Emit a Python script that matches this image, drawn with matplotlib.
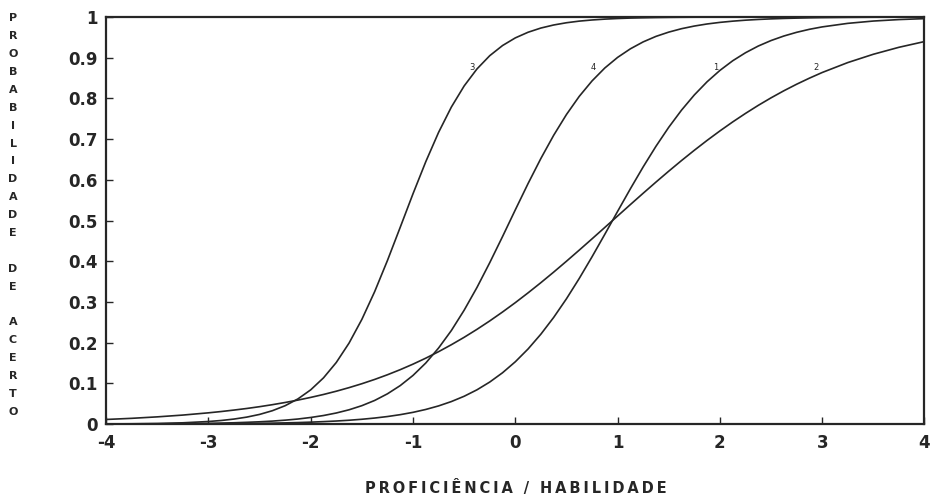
import matplotlib
matplotlib.use("Agg")
import matplotlib.pyplot as plt

# proficiency grid read along the x axis (finer through the steep middle part)
theta = [-4.0, -3.75, -3.5, -3.25,
         -3.0, -2.875, -2.75, -2.625, -2.5, -2.375, -2.25, -2.125,
         -2.0, -1.875, -1.75, -1.625, -1.5, -1.375, -1.25, -1.125,
         -1.0, -0.875, -0.75, -0.625, -0.5, -0.375, -0.25, -0.125,
         0.0, 0.125, 0.25, 0.375, 0.5, 0.625, 0.75, 0.875,
         1.0, 1.125, 1.25, 1.375, 1.5, 1.625, 1.75, 1.875,
         2.0, 2.125, 2.25, 2.375, 2.5, 2.625, 2.75, 2.875,
         3.0, 3.25, 3.5, 3.75, 4.0]

# probability of a correct answer
item_3 = [0.0005, 0.0009, 0.0017, 0.0033,
          0.0065, 0.0090, 0.0125, 0.0173, 0.0239, 0.0330, 0.0453, 0.0620,
          0.0843, 0.1137, 0.1515, 0.1992, 0.2573, 0.3254, 0.4019, 0.4835,
          0.5659, 0.6447, 0.7166, 0.7788, 0.8306, 0.8723, 0.9049, 0.9298,
          0.9486, 0.9625, 0.9728, 0.9803, 0.9858, 0.9898, 0.9926, 0.9947,
          0.9962, 0.9973, 0.9980, 0.9986, 0.9990, 0.9993, 0.9995, 0.9996,
          0.9997, 0.9998, 0.9999, 0.9999, 0.9999, 1.0, 1.0, 1.0,
          1.0, 1.0, 1.0, 1.0, 1.0]
item_4 = [0.0003, 0.0004, 0.0007, 0.0012,
          0.0020, 0.0026, 0.0034, 0.0045, 0.0058, 0.0075, 0.0098, 0.0126,
          0.0164, 0.0212, 0.0274, 0.0353, 0.0454, 0.0582, 0.0745, 0.0947,
          0.1197, 0.1502, 0.1870, 0.2300, 0.2799, 0.3356, 0.3965, 0.4606,
          0.5263, 0.5910, 0.6525, 0.7094, 0.7604, 0.8050, 0.8429, 0.8747,
          0.9007, 0.9218, 0.9388, 0.9523, 0.9628, 0.9712, 0.9777, 0.9828,
          0.9867, 0.9897, 0.9921, 0.9939, 0.9953, 0.9964, 0.9972, 0.9979,
          0.9984, 0.9990, 0.9994, 0.9997, 0.9998]
item_1 = [0.0001, 0.0002, 0.0003, 0.0005,
          0.0008, 0.0010, 0.0013, 0.0016, 0.0020, 0.0025, 0.0031, 0.0039,
          0.0049, 0.0062, 0.0077, 0.0096, 0.0120, 0.0150, 0.0187, 0.0233,
          0.0290, 0.0361, 0.0448, 0.0555, 0.0685, 0.0843, 0.1034, 0.1262,
          0.1532, 0.1847, 0.2210, 0.2621, 0.3079, 0.3578, 0.4110, 0.4663,
          0.5225, 0.5781, 0.6318, 0.6824, 0.7291, 0.7712, 0.8085, 0.8409,
          0.8687, 0.8924, 0.9121, 0.9286, 0.9421, 0.9532, 0.9623, 0.9697,
          0.9756, 0.9843, 0.9900, 0.9936, 0.9959]
item_2 = [0.0115, 0.0143, 0.0179, 0.0223,
          0.0278, 0.0310, 0.0346, 0.0385, 0.0429, 0.0478, 0.0532, 0.0591,
          0.0657, 0.0729, 0.0809, 0.0897, 0.0993, 0.1098, 0.1213, 0.1338,
          0.1474, 0.1621, 0.1780, 0.1951, 0.2133, 0.2328, 0.2535, 0.2754,
          0.2984, 0.3225, 0.3475, 0.3734, 0.4001, 0.4274, 0.4551, 0.4831,
          0.5112, 0.5393, 0.5671, 0.5945, 0.6213, 0.6474, 0.6726, 0.6969,
          0.7201, 0.7422, 0.7631, 0.7829, 0.8014, 0.8187, 0.8348, 0.8497,
          0.8636, 0.8880, 0.9084, 0.9255, 0.9396]

curve_labels = ["3", "4", "1", "2"]
label_x = [-0.42, 0.76, 1.96, 2.94]
label_y = [0.875, 0.875, 0.875, 0.875]

x_ticks = [-4, -3, -2, -1, 0, 1, 2, 3, 4]
x_ticklabels = ["-4", "-3", "-2", "-1", "0", "1", "2", "3", "4"]
y_ticks = [0, 0.1, 0.2, 0.3, 0.4, 0.5, 0.6, 0.7, 0.8, 0.9, 1.0]
y_ticklabels = ["0", "0.1", "0.2", "0.3", "0.4", "0.5", "0.6", "0.7", "0.8", "0.9", "1"]

y_title = "PROBABILIDADE DE ACERTO"
x_title = "PROFICIÊNCIA / HABILIDADE"

ink = "#262626"

fig = plt.figure(figsize=(9.31, 4.99), dpi=100)
ax = fig.add_axes([0.1140, 0.150, 0.879, 0.816])

for ys in (item_3, item_4, item_1, item_2):
    ax.plot(theta, ys, color=ink, lw=1.2)

for lab, lx, ly in zip(curve_labels, label_x, label_y):
    ax.text(lx, ly, lab, fontsize=6, color=ink, ha="center", va="center")

ax.set_xlim(-4, 4)
ax.set_ylim(0, 1)
ax.set_xticks(x_ticks)
ax.set_xticklabels(x_ticklabels, fontsize=12, fontweight="bold", family="DejaVu Sans")
ax.set_yticks(y_ticks)
ax.set_yticklabels(y_ticklabels, fontsize=12, fontweight="bold", family="DejaVu Sans")
ax.tick_params(direction="in", length=5, width=1, colors=ink, pad=6)
ax.tick_params(axis="x", pad=7)
for sp in ax.spines.values():
    sp.set_linewidth(1.6)
    sp.set_color(ink)

# vertical title, one letter per row
rows = list(y_title)
top, bottom = 0.963, 0.175
step = (top - bottom) / (len(rows) - 1)
for i, ch in enumerate(rows):
    if ch == " ":
        continue
    fig.text(0.014, top - i * step, ch, fontsize=8, fontweight="bold",
             color=ink, ha="center", va="center")

fig.text(0.554, 0.022, "\u2009".join(x_title), fontsize=10.5, fontweight="bold",
         color=ink, ha="center", va="center", family="DejaVu Sans")

fig.savefig("out.png", dpi=100, facecolor="white")
